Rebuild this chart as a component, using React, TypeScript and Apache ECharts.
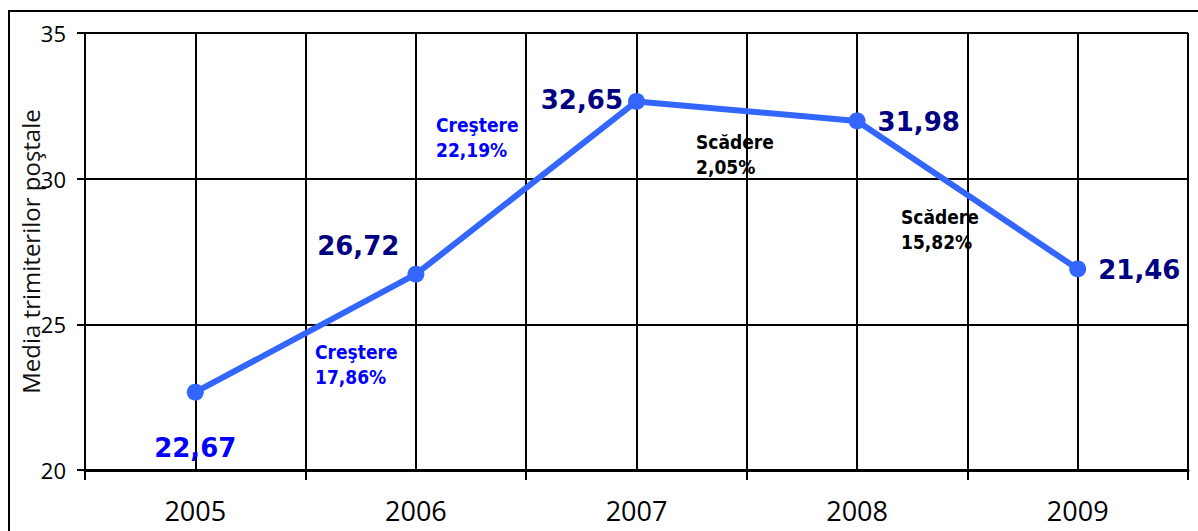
import React, { useEffect, useRef } from "react";
import * as echarts from "echarts";

const years = ["2005", "2006", "2007", "2008", "2009"];
// plotted positions
const values = [22.67, 26.72, 32.65, 31.98, 26.9];
// value labels as printed in the picture
const valueLabels = ["22,67", "26,72", "32,65", "31,98", "21,46"];
const yTicks = { min: 20, max: 35, interval: 5 };
const axisName = "Media trimiterilor poştale";
const notes = [
  { text: "Creştere\n17,86%", color: "#0000FF", left: 315, top: 339 },
  { text: "Creştere\n22,19%", color: "#0000FF", left: 436, top: 112 },
  { text: "Scădere\n2,05%", color: "#000000", left: 696, top: 129 },
  { text: "Scădere\n15,82%", color: "#000000", left: 901, top: 204 },
];

export default function App() {
  const ref = useRef<HTMLDivElement>(null);
  useEffect(() => {
    document.body.style.margin = "0";
    const chart = echarts.init(ref.current!, null, { renderer: "svg" });
    const labelCfg = [
      { position: "bottom", distance: 34, color: "#0000FF" },
      { position: "left", distance: 8, offset: [0, -28], color: "#000080" },
      { position: "left", distance: 5, offset: [0, -1], color: "#000080" },
      { position: "right", distance: 12, offset: [0, 1], color: "#000080" },
      { position: "right", distance: 12, offset: [0, 1], color: "#000080" },
    ];
    chart.setOption({
      animation: false,
      backgroundColor: "#ffffff",
      grid: { left: 85, top: 33, right: 10, bottom: 61, containLabel: false },
      xAxis: {
        type: "category",
        data: years,
        boundaryGap: true,
        axisLine: { show: true, lineStyle: { color: "#000", width: 3 } },
        axisTick: { show: true, length: 10, lineStyle: { color: "#000", width: 2 } },
        axisLabel: { color: "#000", fontSize: 27, fontFamily: "Open Sans", margin: 27 },
        splitLine: { show: true, lineStyle: { color: "#000", width: 2 } },
      },
      yAxis: {
        type: "value",
        min: yTicks.min,
        max: yTicks.max,
        interval: yTicks.interval,
        name: axisName,
        nameLocation: "middle",
        nameGap: 43,
        nameMoveOverlap: false,
        nameTextStyle: { color: "#111", fontSize: 24, fontFamily: "Open Sans" },
        axisLine: { show: true, lineStyle: { color: "#000", width: 2 } },
        axisTick: { show: true, length: 8, lineStyle: { color: "#000", width: 2 } },
        axisLabel: { color: "#000", fontSize: 22, fontFamily: "Open Sans", margin: 19 },
        splitLine: { show: true, lineStyle: { color: "#000", width: 2 } },
      },
      series: [
        {
          type: "line",
          z: 3,
          data: values.map((v, i) => ({
            value: v,
            label: {
              show: true,
              formatter: valueLabels[i],
              position: labelCfg[i].position,
              distance: labelCfg[i].distance,
              offset: labelCfg[i].offset || [0, 0],
              color: labelCfg[i].color,
            },
          })),
          symbol: "circle",
          symbolSize: 17,
          itemStyle: { color: "#3366FF" },
          lineStyle: { color: "#3366FF", width: 6 },
          label: {
            show: true,
            fontFamily: "DejaVu Sans",
            fontWeight: "bold",
            fontSize: 26,
          },
          markLine: {
            silent: true,
            z: 1,
            symbol: "none",
            label: { show: false },
            lineStyle: { color: "#000", width: 2, type: "solid" },
            data: years.map((y) => ({ xAxis: y })),
          },
        },
      ],
      graphic: [
        {
          type: "rect",
          shape: { x: 9, y: 11, width: 1300, height: 600 },
          style: { fill: "none", stroke: "#000", lineWidth: 2 },
          silent: true,
          z: 0,
        },
        ...notes.map((n) => ({
          type: "text",
          left: n.left,
          top: n.top,
          style: {
            text: n.text,
            fill: n.color,
            font: "bold 19px 'DejaVu Sans Condensed', 'DejaVu Sans'",
            lineHeight: 25,
          },
          z: 10,
        })),
      ],
    });
    return () => chart.dispose();
  }, []);
  return <div ref={ref} style={{ width: 1198, height: 531 }} />;
}
